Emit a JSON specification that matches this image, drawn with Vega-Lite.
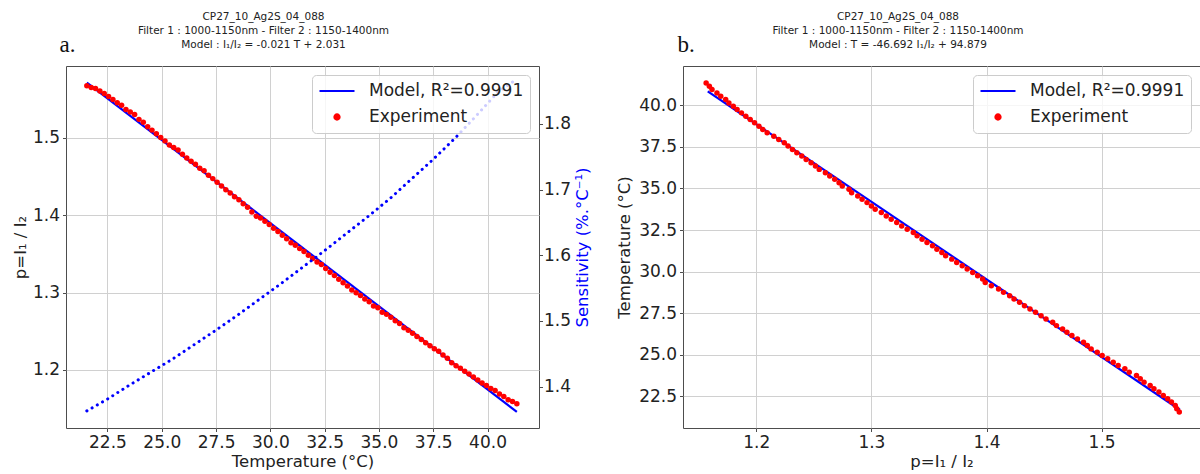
{
  "$schema": "https://vega.github.io/schema/vega-lite/v6.json",
  "background": "white",
  "padding": {"left": 11, "top": 11, "right": 0, "bottom": 0},
  "bounds": "flush",
  "spacing": 144,
  "datasets": {
    "model1": [
      {"T": 21.55, "p": 1.5715, "series": "Model"},
      {"T": 41.35, "p": 1.1459, "series": "Model"}
    ],
    "model2": [
      {"p": 1.1578, "T": 40.84, "series": "Model"},
      {"p": 1.568, "T": 21.69, "series": "Model"}
    ],
    "sens": [
      {"T": 21.55, "S": 1.363}, {"T": 22.5, "S": 1.381}, {"T": 23.5, "S": 1.402}, {"T": 24.5, "S": 1.422},
      {"T": 25.5, "S": 1.442}, {"T": 26.5, "S": 1.464}, {"T": 27.5, "S": 1.486}, {"T": 28.5, "S": 1.509},
      {"T": 29.5, "S": 1.533}, {"T": 30.5, "S": 1.557}, {"T": 31.5, "S": 1.582}, {"T": 32.5, "S": 1.607},
      {"T": 33.5, "S": 1.633}, {"T": 34.5, "S": 1.659}, {"T": 35.5, "S": 1.686}, {"T": 36.5, "S": 1.716},
      {"T": 37.5, "S": 1.746}, {"T": 38.5, "S": 1.778}, {"T": 39.5, "S": 1.813}, {"T": 40.5, "S": 1.849},
      {"T": 41.35, "S": 1.868}
    ],
    "exp": [
      {"T": 21.55, "p": 1.5675, "series": "Experiment"}, {"T": 21.75, "p": 1.5653, "series": "Experiment"},
      {"T": 21.95, "p": 1.5640, "series": "Experiment"}, {"T": 22.15, "p": 1.5607, "series": "Experiment"},
      {"T": 22.35, "p": 1.5574, "series": "Experiment"}, {"T": 22.55, "p": 1.5536, "series": "Experiment"},
      {"T": 22.75, "p": 1.5498, "series": "Experiment"}, {"T": 22.95, "p": 1.5455, "series": "Experiment"},
      {"T": 23.15, "p": 1.5422, "series": "Experiment"}, {"T": 23.35, "p": 1.5369, "series": "Experiment"},
      {"T": 23.55, "p": 1.5336, "series": "Experiment"}, {"T": 23.75, "p": 1.5303, "series": "Experiment"},
      {"T": 23.95, "p": 1.5240, "series": "Experiment"}, {"T": 24.15, "p": 1.5202, "series": "Experiment"},
      {"T": 24.35, "p": 1.5144, "series": "Experiment"}, {"T": 24.55, "p": 1.5101, "series": "Experiment"},
      {"T": 24.75, "p": 1.5053, "series": "Experiment"}, {"T": 24.95, "p": 1.5005, "series": "Experiment"},
      {"T": 25.15, "p": 1.4962, "series": "Experiment"}, {"T": 25.35, "p": 1.4909, "series": "Experiment"},
      {"T": 25.55, "p": 1.4876, "series": "Experiment"}, {"T": 25.75, "p": 1.4843, "series": "Experiment"},
      {"T": 25.95, "p": 1.4790, "series": "Experiment"}, {"T": 26.15, "p": 1.4742, "series": "Experiment"},
      {"T": 26.35, "p": 1.4699, "series": "Experiment"}, {"T": 26.55, "p": 1.4661, "series": "Experiment"},
      {"T": 26.75, "p": 1.4608, "series": "Experiment"}, {"T": 26.95, "p": 1.4575, "series": "Experiment"},
      {"T": 27.15, "p": 1.4517, "series": "Experiment"}, {"T": 27.35, "p": 1.4474, "series": "Experiment"},
      {"T": 27.55, "p": 1.4426, "series": "Experiment"}, {"T": 27.75, "p": 1.4378, "series": "Experiment"},
      {"T": 27.95, "p": 1.4330, "series": "Experiment"}, {"T": 28.15, "p": 1.4287, "series": "Experiment"},
      {"T": 28.35, "p": 1.4239, "series": "Experiment"}, {"T": 28.55, "p": 1.4201, "series": "Experiment"},
      {"T": 28.75, "p": 1.4148, "series": "Experiment"}, {"T": 28.95, "p": 1.4105, "series": "Experiment"},
      {"T": 29.15, "p": 1.4042, "series": "Experiment"}, {"T": 29.35, "p": 1.3989, "series": "Experiment"},
      {"T": 29.55, "p": 1.3966, "series": "Experiment"}, {"T": 29.75, "p": 1.3923, "series": "Experiment"},
      {"T": 29.95, "p": 1.3880, "series": "Experiment"}, {"T": 30.15, "p": 1.3832, "series": "Experiment"},
      {"T": 30.35, "p": 1.3789, "series": "Experiment"}, {"T": 30.55, "p": 1.3741, "series": "Experiment"},
      {"T": 30.75, "p": 1.3698, "series": "Experiment"}, {"T": 30.95, "p": 1.3645, "series": "Experiment"},
      {"T": 31.15, "p": 1.3612, "series": "Experiment"}, {"T": 31.35, "p": 1.3569, "series": "Experiment"},
      {"T": 31.55, "p": 1.3531, "series": "Experiment"}, {"T": 31.75, "p": 1.3483, "series": "Experiment"},
      {"T": 31.95, "p": 1.3440, "series": "Experiment"}, {"T": 32.15, "p": 1.3397, "series": "Experiment"},
      {"T": 32.35, "p": 1.3364, "series": "Experiment"}, {"T": 32.55, "p": 1.3311, "series": "Experiment"},
      {"T": 32.75, "p": 1.3263, "series": "Experiment"}, {"T": 32.95, "p": 1.3220, "series": "Experiment"},
      {"T": 33.15, "p": 1.3172, "series": "Experiment"}, {"T": 33.35, "p": 1.3129, "series": "Experiment"},
      {"T": 33.55, "p": 1.3086, "series": "Experiment"}, {"T": 33.75, "p": 1.3033, "series": "Experiment"},
      {"T": 33.95, "p": 1.3000, "series": "Experiment"}, {"T": 34.15, "p": 1.2962, "series": "Experiment"},
      {"T": 34.35, "p": 1.2919, "series": "Experiment"}, {"T": 34.55, "p": 1.2881, "series": "Experiment"},
      {"T": 34.75, "p": 1.2828, "series": "Experiment"}, {"T": 34.95, "p": 1.2805, "series": "Experiment"},
      {"T": 35.15, "p": 1.2747, "series": "Experiment"}, {"T": 35.35, "p": 1.2719, "series": "Experiment"},
      {"T": 35.55, "p": 1.2681, "series": "Experiment"}, {"T": 35.75, "p": 1.2638, "series": "Experiment"},
      {"T": 35.95, "p": 1.2600, "series": "Experiment"}, {"T": 36.15, "p": 1.2547, "series": "Experiment"},
      {"T": 36.35, "p": 1.2514, "series": "Experiment"}, {"T": 36.55, "p": 1.2476, "series": "Experiment"},
      {"T": 36.75, "p": 1.2433, "series": "Experiment"}, {"T": 36.95, "p": 1.2395, "series": "Experiment"},
      {"T": 37.15, "p": 1.2352, "series": "Experiment"}, {"T": 37.35, "p": 1.2314, "series": "Experiment"},
      {"T": 37.55, "p": 1.2276, "series": "Experiment"}, {"T": 37.75, "p": 1.2243, "series": "Experiment"},
      {"T": 37.95, "p": 1.2195, "series": "Experiment"}, {"T": 38.15, "p": 1.2152, "series": "Experiment"},
      {"T": 38.35, "p": 1.2094, "series": "Experiment"}, {"T": 38.55, "p": 1.2056, "series": "Experiment"},
      {"T": 38.75, "p": 1.2023, "series": "Experiment"}, {"T": 38.95, "p": 1.1985, "series": "Experiment"},
      {"T": 39.15, "p": 1.1947, "series": "Experiment"}, {"T": 39.35, "p": 1.1909, "series": "Experiment"},
      {"T": 39.55, "p": 1.1871, "series": "Experiment"}, {"T": 39.75, "p": 1.1833, "series": "Experiment"},
      {"T": 39.95, "p": 1.1800, "series": "Experiment"}, {"T": 40.15, "p": 1.1762, "series": "Experiment"},
      {"T": 40.35, "p": 1.1734, "series": "Experiment"}, {"T": 40.55, "p": 1.1691, "series": "Experiment"},
      {"T": 40.75, "p": 1.1658, "series": "Experiment"}, {"T": 40.95, "p": 1.1615, "series": "Experiment"},
      {"T": 41.15, "p": 1.1592, "series": "Experiment"}, {"T": 41.35, "p": 1.1564, "series": "Experiment"}
    ]
  },
  "resolve": {"scale": {"x": "independent", "y": "independent", "color": "independent"}, "legend": {"color": "independent"}},
  "hconcat": [
    {
      "width": 473,
      "height": 362,
      "title": {
        "text": ["CP27_10_Ag2S_04_088", "Filter 1 : 1000-1150nm - Filter 2 : 1150-1400nm", "Model : I₁/I₂ = -0.021 T + 2.031"],
        "dx": -39,
        "offset": -17
      },
      "layer": [
        {
          "layer": [
            {
              "data": {"name": "model1"},
              "mark": {"type": "line", "strokeWidth": 2.2},
              "encoding": {
                "x": {"field": "T", "type": "quantitative", "scale": {"domain": [20.59, 42.37], "nice": false, "zero": false},
                      "axis": {"title": "Temperature (°C)", "values": [22.5, 25, 27.5, 30, 32.5, 35, 37.5, 40], "format": ".1f", "grid": true, "titlePadding": 3}},
                "y": {"field": "p", "type": "quantitative", "scale": {"domain": [1.125, 1.593], "nice": false, "zero": false},
                      "axis": {"title": "p=I₁ / I₂", "values": [1.2, 1.3, 1.4, 1.5], "format": ".1f", "grid": true, "titlePadding": 4}},
                "color": {
                  "field": "series", "type": "nominal",
                  "scale": {"domain": ["Model", "Experiment"], "range": ["#0000ff", "#ff0000"]},
                  "legend": {
                    "title": null,
                    "labelExpr": "datum.value == 'Model' ? '\u00a0Model, R²=0.9991' : datum.value",
                    "encode": {"symbols": {"update": {
                      "shape": {"signal": "datum.value == 'Experiment' ? 'circle' : 'stroke'"},
                      "size": {"signal": "datum.value == 'Experiment' ? 26 : 1225"},
                      "fill": {"signal": "datum.value == 'Experiment' ? '#ff0000' : 'transparent'"},
                      "stroke": {"signal": "datum.value == 'Experiment' ? 'transparent' : '#0000ff'"},
                      "strokeWidth": {"value": 2.2},
                      "opacity": {"value": 1}
                    }}}
                  }
                }
              }
            },
            {
              "data": {"name": "exp"},
              "mark": {"type": "circle", "size": 30, "opacity": 1},
              "encoding": {
                "x": {"field": "T", "type": "quantitative", "scale": {"domain": [20.59, 42.37], "nice": false, "zero": false}},
                "y": {"field": "p", "type": "quantitative", "scale": {"domain": [1.125, 1.593], "nice": false, "zero": false}},
                "color": {"field": "series", "type": "nominal"}
              }
            }
          ]
        },
        {
          "data": {"name": "sens"},
          "mark": {"type": "line", "color": "#0000ff", "strokeWidth": 3, "strokeCap": "round", "strokeDash": [0.1, 5.9]},
          "encoding": {
            "x": {"field": "T", "type": "quantitative", "scale": {"domain": [20.59, 42.37], "nice": false, "zero": false},
                  "axis": {"orient": "top", "title": "a.", "labels": false, "ticks": false, "domain": false, "grid": false,
                           "titleX": -7, "titleY": -15, "titleAlign": "left", "titleBaseline": "alphabetic", "titleAngle": 0,
                           "titleFont": "Liberation Serif", "titleFontSize": 23, "titleColor": "#111"}},
            "y": {"field": "S", "type": "quantitative", "scale": {"domain": [1.337, 1.888], "nice": false, "zero": false},
                  "axis": {"orient": "right", "title": "Sensitivity (%.°C⁻¹)", "titleColor": "#0000ff", "titleAngle": 270, "titleBaseline": "top",
                           "values": [1.4, 1.5, 1.6, 1.7, 1.8], "format": ".1f", "grid": false, "labelPadding": 1, "titlePadding": 4}}
          }
        }
      ],
      "resolve": {"scale": {"y": "independent"}, "axis": {"x": "independent", "y": "independent"}}
    },
    {
      "width": 517,
      "height": 362,
      "title": {
        "text": ["CP27_10_Ag2S_04_088", "Filter 1 : 1000-1150nm - Filter 2 : 1150-1400nm", "Model : T = -46.692 I₁/I₂ + 94.879"],
        "dx": -43.5,
        "offset": -17
      },
      "layer": [
        {
          "data": {"name": "model2"},
          "mark": {"type": "line", "strokeWidth": 2.2},
          "encoding": {
            "x": {"field": "p", "type": "quantitative", "scale": {"domain": [1.1363, 1.5855], "nice": false, "zero": false},
                  "axis": {"title": "p=I₁ / I₂", "values": [1.2, 1.3, 1.4, 1.5], "format": ".1f", "grid": true, "titlePadding": 3}},
            "y": {"field": "T", "type": "quantitative", "scale": {"domain": [20.59, 42.37], "nice": false, "zero": false},
                  "axis": {"title": "Temperature (°C)", "values": [22.5, 25, 27.5, 30, 32.5, 35, 37.5, 40], "format": ".1f", "grid": true, "titlePadding": 6}},
            "color": {
              "field": "series", "type": "nominal",
              "scale": {"domain": ["Model", "Experiment"], "range": ["#0000ff", "#ff0000"]},
              "legend": {
                "title": null,
                "labelExpr": "datum.value == 'Model' ? '\u00a0Model, R²=0.9991' : datum.value",
                "encode": {"symbols": {"update": {
                  "shape": {"signal": "datum.value == 'Experiment' ? 'circle' : 'stroke'"},
                  "size": {"signal": "datum.value == 'Experiment' ? 26 : 1225"},
                  "fill": {"signal": "datum.value == 'Experiment' ? '#ff0000' : 'transparent'"},
                  "stroke": {"signal": "datum.value == 'Experiment' ? 'transparent' : '#0000ff'"},
                  "strokeWidth": {"value": 2.2},
                  "opacity": {"value": 1}
                }}}
              }
            }
          }
        },
        {
          "data": {"name": "exp"},
          "mark": {"type": "circle", "size": 30, "opacity": 1},
          "encoding": {
            "x": {"field": "p", "type": "quantitative", "scale": {"domain": [1.1363, 1.5855], "nice": false, "zero": false},
                  "axis": {"orient": "top", "title": "b.", "labels": false, "ticks": false, "domain": false, "grid": false,
                           "titleX": -6, "titleY": -15, "titleAlign": "left", "titleBaseline": "alphabetic", "titleAngle": 0,
                           "titleFont": "Liberation Serif", "titleFontSize": 23, "titleColor": "#111"}},
            "y": {"field": "T", "type": "quantitative", "scale": {"domain": [20.59, 42.37], "nice": false, "zero": false}},
            "color": {"field": "series", "type": "nominal"}
          }
        }
      ],
      "resolve": {"axis": {"x": "independent"}}
    }
  ],
  "config": {
    "font": "DejaVu Sans",
    "view": {"stroke": "#4d4d4d", "strokeWidth": 1},
    "title": {"font": "DejaVu Sans", "fontSize": 10.5, "fontWeight": "normal", "color": "#222", "lineHeight": 14, "anchor": "middle", "frame": "group"},
    "axis": {
      "labelFont": "DejaVu Sans", "labelFontSize": 17, "labelColor": "#222",
      "titleFont": "DejaVu Sans", "titleFontSize": 16.5, "titleFontWeight": "normal", "titleColor": "#222",
      "tickColor": "#4d4d4d", "tickSize": 3.5, "tickWidth": 1, "domain": false,
      "gridColor": "#d0d0d0", "gridWidth": 1, "labelPadding": 3, "labelFlush": false, "labelOverlap": false
    },
    "legend": {
      "orient": "top-right", "offset": 9, "labelFont": "DejaVu Sans", "labelFontSize": 17, "labelColor": "#222",
      "symbolSize": 1225, "clipHeight": 20, "rowPadding": 6, "padding": 6, "labelOffset": 13, "symbolOffset": 0,
      "fillColor": "rgba(255,255,255,0.8)", "strokeColor": "#cccccc", "cornerRadius": 4
    }
  }
}
